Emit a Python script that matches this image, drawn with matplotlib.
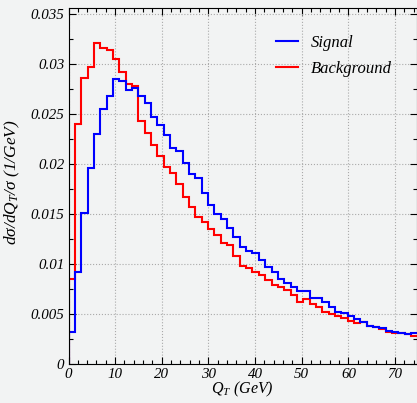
import numpy as np
import matplotlib
matplotlib.use("Agg")
import matplotlib.pyplot as plt
from matplotlib.ticker import MultipleLocator, FuncFormatter

# histogram bin width (GeV) and bin contents
bin_width = 1.36
signal = [0.0032, 0.0092, 0.0151, 0.0196, 0.0230, 0.0255, 0.0268, 0.0285, 0.0283, 0.0274,
          0.0276, 0.0268, 0.0261, 0.0247, 0.0239, 0.0229, 0.0216, 0.0213, 0.0201, 0.0190,
          0.0186, 0.0171, 0.0159, 0.0150, 0.0145, 0.0136, 0.0127, 0.0117, 0.0113, 0.0111,
          0.0104, 0.0097, 0.0092, 0.0085, 0.0081, 0.0077, 0.0073, 0.0073, 0.0066, 0.0066,
          0.0062, 0.0057, 0.0052, 0.0051, 0.0048, 0.0045, 0.0042, 0.0038, 0.0037, 0.0036,
          0.0033, 0.0032, 0.0031, 0.0030, 0.0031]
background = [0.0085, 0.0240, 0.0286, 0.0297, 0.0321, 0.0316, 0.0314, 0.0305, 0.0292, 0.0280,
              0.0278, 0.0243, 0.0231, 0.0219, 0.0208, 0.0197, 0.0191, 0.0180, 0.0167, 0.0157,
              0.0147, 0.0142, 0.0135, 0.0129, 0.0121, 0.0119, 0.0108, 0.0098, 0.0096, 0.0092,
              0.0089, 0.0084, 0.0079, 0.0077, 0.0074, 0.0069, 0.0062, 0.0065, 0.0060, 0.0057,
              0.0052, 0.0050, 0.0048, 0.0046, 0.0043, 0.0041, 0.0042, 0.0038, 0.0037, 0.0035,
              0.0032, 0.0031, 0.0031, 0.0030, 0.0028]
labels = ["Signal", "Background"]

plt.rcParams['font.family'] = ['Liberation Serif', 'DejaVu Serif']
plt.rcParams['font.style'] = 'italic'
plt.rcParams['mathtext.fontset'] = 'custom'
plt.rcParams['mathtext.it'] = 'Liberation Serif:italic'
plt.rcParams['mathtext.rm'] = 'Liberation Serif:italic'

fig = plt.figure(figsize=(4.17, 4.03), dpi=100)
fig.patch.set_facecolor('#f2f3f3')
ax = fig.add_axes([68.5 / 417, 39 / 403, 348 / 417, 356 / 403])
ax.set_facecolor('none')

edges = np.arange(len(signal) + 1) * bin_width
for vals, col, lab in [(background, '#ff0000', labels[1]), (signal, '#0000ff', labels[0])]:
    # open step outline, with only the left side coming up from zero
    ax.stairs(vals, edges, color=col, lw=1.5, baseline=None, label=lab)
    ax.vlines(edges[0], 0, vals[0], color=col, lw=1.5)

ax.set_xlim(0, 74.6)
ax.set_ylim(0, 0.0356)
ax.xaxis.set_major_locator(MultipleLocator(10))
ax.xaxis.set_minor_locator(MultipleLocator(2))
ax.yaxis.set_major_locator(MultipleLocator(0.005))
ax.yaxis.set_minor_locator(MultipleLocator(0.0025))
ax.yaxis.set_major_formatter(FuncFormatter(lambda v, p: '%g' % round(v, 4)))
ax.tick_params(which='both', direction='in', top=True, right=True, labelsize=10.8)
ax.tick_params(which='major', length=5, width=0.8)
ax.tick_params(which='minor', length=3, width=0.8)
ax.tick_params(axis='x', pad=3)
ax.tick_params(axis='y', pad=3)
ax.grid(True, which='major', ls=':', color='#aaaaaa', lw=0.8)
ax.set_axisbelow(True)

ax.set_xlabel(r'$Q_T$ (GeV)', fontsize=11.5, labelpad=-1)
ax.set_ylabel(r'$d$σ$/dQ_T/$σ (1/GeV)', fontsize=12.5)
ax.yaxis.set_label_coords(-0.135, 0.51)

h, l = ax.get_legend_handles_labels()
ax.legend(h[::-1], l[::-1], loc='upper left', bbox_to_anchor=(0.595, 0.925),
          frameon=False, fontsize=12, handlelength=1.35, handletextpad=0.75,
          labelspacing=0.62, borderpad=0, borderaxespad=0)

fig.savefig('out.png', dpi=100, facecolor=fig.get_facecolor())
